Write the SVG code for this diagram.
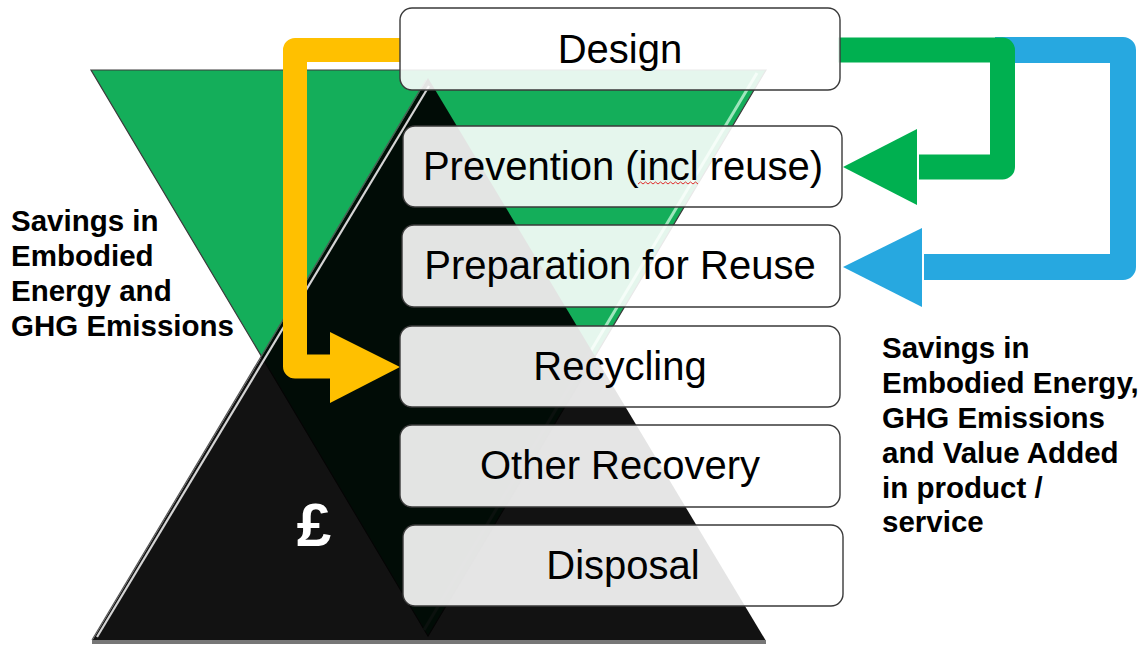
<svg xmlns="http://www.w3.org/2000/svg" width="1147" height="646" viewBox="0 0 1147 646">
  <style>
    .box { fill: #ffffff; fill-opacity: 0.89; stroke: #3a3a3a; stroke-width: 1.4; }
    .lbl { font-family: "Liberation Sans", Arial, sans-serif; font-size: 40px; fill: #000; text-anchor: middle; }
    .note { font-family: "Liberation Sans", Arial, sans-serif; font-size: 29.5px; font-weight: bold; fill: #000; }
    .flow { fill: none; stroke-linejoin: round; stroke-linecap: butt; }
  </style>

  <!-- inverted green triangle (environmental savings) -->
  <g id="green-triangle">
    <polygon points="91,70 766,70 428,636" fill="#14ae5a" stroke="#3a3a3a" stroke-width="1.2"/>
    <line x1="757" y1="73" x2="424" y2="630" stroke="#9fe6bd" stroke-width="3"/>
  </g>

  <!-- upright black triangle (cost) -->
  <g id="black-triangle">
    <polygon points="428,78 92,641 766,641" fill="#000000" fill-opacity="0.93"/>
    <line x1="426" y1="80" x2="92" y2="640" stroke="#555" stroke-width="1.2"/>
    <line x1="429" y1="86" x2="97" y2="637" stroke="#d4d4d4" stroke-width="2.2"/>
    <line x1="92" y1="642" x2="766" y2="642" stroke="#777" stroke-width="4"/>
    <text x="314" y="546" font-family="'Liberation Sans', Arial, sans-serif" font-size="62" font-weight="bold" fill="#ffffff" text-anchor="middle">£</text>
  </g>

  <!-- connectors -->
  <g id="connectors">
    <!-- Design -> Recycling -->
    <path class="flow" d="M401,50 H295 V366.5 H332" stroke="#ffc000" stroke-width="24"/>
    <polygon points="330,332 400,367 330,403" fill="#ffc000"/>
    <!-- Design -> Preparation for Reuse -->
    <path class="flow" d="M995,50 H1123 V267 H924" stroke="#27a8e0" stroke-width="26"/>
    <polygon points="922,228 843,267 922,307" fill="#27a8e0"/>
    <!-- Design -> Prevention -->
    <path class="flow" d="M838,50 H1002.5 V167 H919" stroke="#00b050" stroke-width="25"/>
    <polygon points="917,129 843,167 917,205" fill="#00b050"/>
  </g>

  <!-- hierarchy steps -->
  <g id="node-design">
    <rect class="box" x="400" y="8" width="440" height="82" rx="12"/>
    <text class="lbl" x="620" y="63">Design</text>
  </g>
  <g id="node-prevention">
    <rect class="box" x="403" y="126" width="439" height="81" rx="12"/>
    <text class="lbl" x="623" y="180">Prevention (incl reuse)</text>
    <path d="M638,184 l2.5,-2 l2.5,2 l2.5,-2 l2.5,2 l2.5,-2 l2.5,2 l2.5,-2 l2.5,2 l2.5,-2 l2.5,2 l2.5,-2 l2.5,2 l2.5,-2 l2.5,2 l2.5,-2 l2.5,2 l2.5,-2 l2.5,2 l2.5,-2 l2.5,2 l2.5,-2 l2.5,2 l2.5,-2 l2.5,2" fill="none" stroke="#e03030" stroke-width="1"/>
  </g>
  <g id="node-preparation">
    <rect class="box" x="402" y="225" width="438" height="82" rx="12"/>
    <text class="lbl" x="620" y="279">Preparation for Reuse</text>
  </g>
  <g id="node-recycling">
    <rect class="box" x="400" y="326" width="440" height="81" rx="12"/>
    <text class="lbl" x="620" y="380">Recycling</text>
  </g>
  <g id="node-other-recovery">
    <rect class="box" x="400" y="425" width="440" height="82" rx="12"/>
    <text class="lbl" x="620" y="479">Other Recovery</text>
  </g>
  <g id="node-disposal">
    <rect class="box" x="403" y="525" width="440" height="81" rx="12"/>
    <text class="lbl" x="623" y="579">Disposal</text>
  </g>

  <!-- side notes -->
  <g id="note-left">
    <text class="note" x="11" y="231">Savings in</text>
    <text class="note" x="11" y="266">Embodied</text>
    <text class="note" x="11" y="301">Energy and</text>
    <text class="note" x="11" y="336">GHG Emissions</text>
  </g>
  <g id="note-right">
    <text class="note" x="882" y="358">Savings in</text>
    <text class="note" x="882" y="393">Embodied Energy,</text>
    <text class="note" x="882" y="428">GHG Emissions</text>
    <text class="note" x="882" y="463">and Value Added</text>
    <text class="note" x="882" y="498">in product /</text>
    <text class="note" x="882" y="532">service</text>
  </g>
</svg>
